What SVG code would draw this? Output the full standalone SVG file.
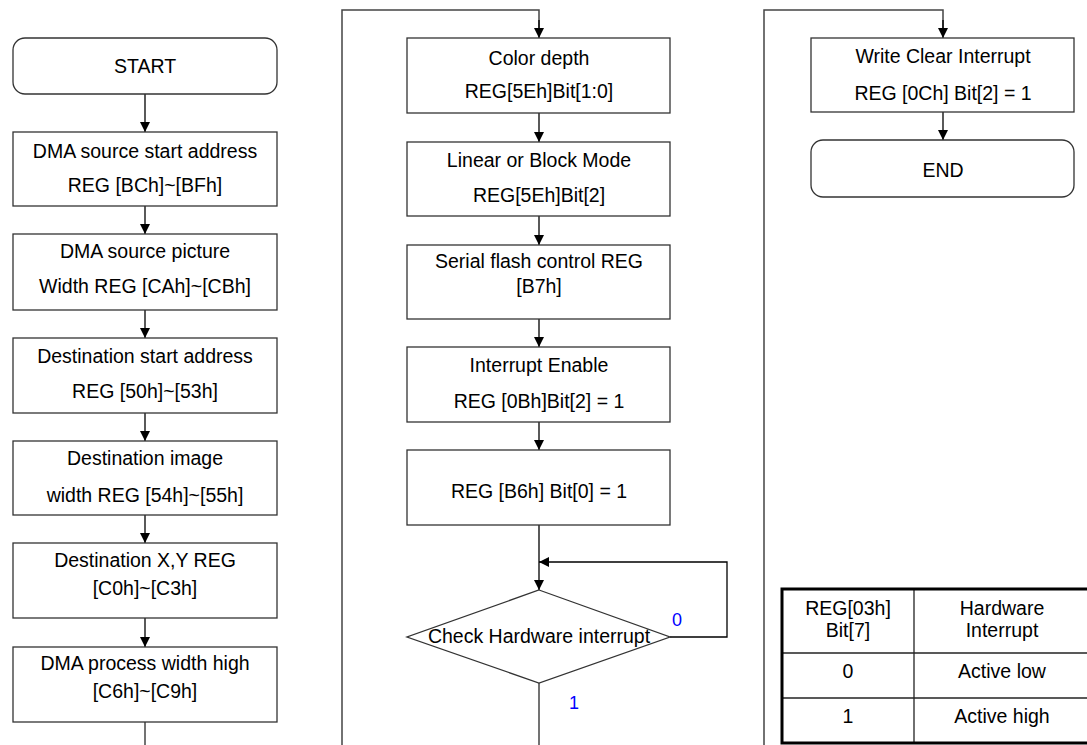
<svg xmlns="http://www.w3.org/2000/svg" width="1087" height="745" viewBox="0 0 1087 745">
<defs>
<marker id="ah" markerUnits="userSpaceOnUse" markerWidth="10" markerHeight="11" refX="10" refY="5" orient="auto">
<path d="M0,0 L10,5 L0,10 Z" fill="#000"/>
</marker>
<style>
.box{fill:#fff;stroke:#333;stroke-width:1.3}
.t{font-family:"Liberation Sans",Arial,sans-serif;font-size:19.5px;fill:#000;text-anchor:middle}
.lbl{font-family:"Liberation Sans",Arial,sans-serif;font-size:18px;fill:#0000ff}
.c{fill:none;stroke:#000;stroke-width:1.3}
.c2{fill:none;stroke:#444;stroke-width:1.5}
.tb{fill:none;stroke:#000;stroke-width:3}
.tl{fill:none;stroke:#222;stroke-width:1.3}
</style>
</defs>
<rect width="1087" height="745" fill="#fff"/>
<g id="connectors">
<line class="c" x1="145" y1="94" x2="145" y2="132" marker-end="url(#ah)"/>
<line class="c" x1="145" y1="206" x2="145" y2="234" marker-end="url(#ah)"/>
<line class="c" x1="145" y1="310" x2="145" y2="338" marker-end="url(#ah)"/>
<line class="c" x1="145" y1="413" x2="145" y2="441" marker-end="url(#ah)"/>
<line class="c" x1="145" y1="515" x2="145" y2="543" marker-end="url(#ah)"/>
<line class="c" x1="145" y1="618" x2="145" y2="647" marker-end="url(#ah)"/>
<line class="c2" x1="145" y1="722" x2="145" y2="745"/>
<polyline class="c2" points="342,745 342,10 539,10 539,28"/>
<line class="c" x1="539" y1="20" x2="539" y2="38" marker-end="url(#ah)"/>
<line class="c" x1="539" y1="113" x2="539" y2="142" marker-end="url(#ah)"/>
<line class="c" x1="539" y1="216" x2="539" y2="245" marker-end="url(#ah)"/>
<line class="c" x1="539" y1="319" x2="539" y2="347" marker-end="url(#ah)"/>
<line class="c" x1="539" y1="422" x2="539" y2="450" marker-end="url(#ah)"/>
<line class="c" x1="539" y1="525" x2="539" y2="590" marker-end="url(#ah)"/>
<polyline class="c" points="670,637 727,637 727,562 539,562" marker-end="url(#ah)"/>
<line class="c2" x1="539" y1="683" x2="539" y2="745"/>
<polyline class="c2" points="764,745 764,10 943,10 943,28"/>
<line class="c" x1="943" y1="20" x2="943" y2="38" marker-end="url(#ah)"/>
<line class="c" x1="943" y1="112" x2="943" y2="140" marker-end="url(#ah)"/>
<text class="lbl" x="672" y="626">0</text>
<text class="lbl" x="569" y="709">1</text>
</g>
<g id="start"><rect class="box" x="13" y="38" width="264" height="56" rx="12"/><text class="t" x="145" y="73">START</text></g>
<g id="b1"><rect class="box" x="13" y="132" width="264" height="74"/><text class="t" x="145" y="158">DMA source start address</text><text class="t" x="145" y="192">REG [BCh]~[BFh]</text></g>
<g id="b2"><rect class="box" x="13" y="234" width="264" height="76"/><text class="t" x="145" y="258">DMA source picture</text><text class="t" x="145" y="293">Width REG [CAh]~[CBh]</text></g>
<g id="b3"><rect class="box" x="13" y="338" width="264" height="75"/><text class="t" x="145" y="363">Destination start address</text><text class="t" x="145" y="398">REG [50h]~[53h]</text></g>
<g id="b4"><rect class="box" x="13" y="441" width="264" height="74"/><text class="t" x="145" y="465">Destination image</text><text class="t" x="145" y="502">width REG [54h]~[55h]</text></g>
<g id="b5"><rect class="box" x="13" y="543" width="264" height="75"/><text class="t" x="145" y="567">Destination X,Y REG</text><text class="t" x="145" y="595">[C0h]~[C3h]</text></g>
<g id="b6"><rect class="box" x="13" y="647" width="264" height="75"/><text class="t" x="145" y="670">DMA process width high</text><text class="t" x="145" y="698">[C6h]~[C9h]</text></g>
<g id="m1"><rect class="box" x="407" y="38" width="263" height="75"/><text class="t" x="539" y="65">Color depth</text><text class="t" x="539" y="98">REG[5Eh]Bit[1:0]</text></g>
<g id="m2"><rect class="box" x="407" y="142" width="263" height="74"/><text class="t" x="539" y="167">Linear or Block Mode</text><text class="t" x="539" y="202">REG[5Eh]Bit[2]</text></g>
<g id="m3"><rect class="box" x="407" y="245" width="263" height="74"/><text class="t" x="539" y="268">Serial flash control REG</text><text class="t" x="539" y="293">[B7h]</text></g>
<g id="m4"><rect class="box" x="407" y="347" width="263" height="75"/><text class="t" x="539" y="372">Interrupt Enable</text><text class="t" x="539" y="408">REG [0Bh]Bit[2] = 1</text></g>
<g id="m5"><rect class="box" x="407" y="450" width="263" height="75"/><text class="t" x="539" y="498">REG [B6h] Bit[0] = 1</text></g>
<g id="decision"><polygon class="box" points="539,590 670,637 539,683 407,637"/><text class="t" x="539" y="643">Check Hardware interrupt</text></g>
<g id="r1"><rect class="box" x="811" y="38" width="263" height="74"/><text class="t" x="943" y="63">Write Clear Interrupt</text><text class="t" x="943" y="100">REG [0Ch] Bit[2] = 1</text></g>
<g id="end"><rect class="box" x="811" y="140" width="263" height="57" rx="12"/><text class="t" x="943" y="177">END</text></g>
<g id="table">
<line class="tl" x1="914" y1="589" x2="914" y2="743"/>
<line class="tl" x1="782" y1="653" x2="1090" y2="653"/>
<line class="tl" x1="782" y1="698" x2="1090" y2="698"/>
<polyline class="tb" points="1090,589 782,589 782,743 1090,743"/>
<text class="t" x="848" y="615">REG[03h]</text>
<text class="t" x="848" y="637">Bit[7]</text>
<text class="t" x="1002" y="615">Hardware</text>
<text class="t" x="1002" y="637">Interrupt</text>
<text class="t" x="848" y="678">0</text>
<text class="t" x="1002" y="678">Active low</text>
<text class="t" x="848" y="723">1</text>
<text class="t" x="1002" y="723">Active high</text>
</g>
</svg>
